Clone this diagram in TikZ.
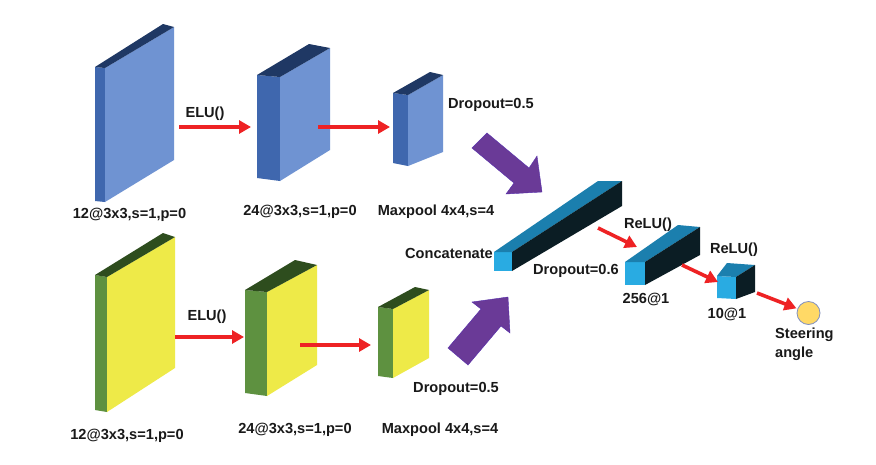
\documentclass[tikz,border=0pt]{standalone}
\usepackage{fontspec}
\setmainfont{Liberation Sans}
\usetikzlibrary{arrows.meta}
\definecolor{bFace}{HTML}{6F93D2}
\definecolor{bStrip}{HTML}{3F67AE}
\definecolor{bTop}{HTML}{1F3864}
\definecolor{gStrip}{HTML}{5E9140}
\definecolor{gTop}{HTML}{2E4D1E}
\definecolor{gFace}{HTML}{EEEA48}
\definecolor{cFront}{HTML}{29ABE2}
\definecolor{cTop}{HTML}{1B7FAE}
\definecolor{cSide}{HTML}{0B1D24}
\definecolor{purp}{HTML}{6A3A97}
\definecolor{redA}{HTML}{EE2224}
\definecolor{sun}{HTML}{FFD966}
\definecolor{ring}{HTML}{7F8FC0}
\tikzset{
  lbl/.style={font=\bfseries\fontsize{14.6}{16}\selectfont, inner sep=0pt, anchor=base, text=black!90},
  redarrow/.style={draw=redA, line width=3.6pt, -{Triangle[length=12pt,width=13pt]}},
  bigarrow/.style={fill=purp, draw=purp!80!blue, line width=0.4pt, line join=miter},
}
\begin{document}
\begin{tikzpicture}[x=1pt,y=-1pt]
\useasboundingbox (0,0) rectangle (876,464);
\fill[white] (0,0) rectangle (876,464);

% ---------- top row (blue) ----------
% box 1
\fill[bStrip] (95,67) -- (105,68) -- (105,202) -- (95,201) -- cycle;
\fill[bFace] (105,68) -- (174,27) -- (174,160) -- (105,202) -- cycle;
\fill[bTop] (95,67) -- (105,68) -- (174,27) -- (163,24) -- cycle;
% box 2
\fill[bStrip] (257,75) -- (280,77) -- (280,181) -- (257,178) -- cycle;
\fill[bFace] (280,77) -- (330,48) -- (330,150) -- (280,181) -- cycle;
\fill[bTop] (257,75) -- (280,77) -- (330,48) -- (309,44) -- cycle;
% box 3
\fill[bStrip] (393,93) -- (408,95) -- (408,166) -- (393,163) -- cycle;
\fill[bFace] (408,95) -- (443,75) -- (443,152) -- (408,166) -- cycle;
\fill[bTop] (393,93) -- (408,95) -- (443,75) -- (430,72) -- cycle;

% ---------- bottom row (green/yellow) ----------
\fill[gStrip] (95,275) -- (107,277) -- (107,412) -- (95,410) -- cycle;
\fill[gFace] (107,277) -- (175,237) -- (175,368) -- (107,412) -- cycle;
\fill[gTop] (95,275) -- (107,277) -- (175,237) -- (163,233) -- cycle;

\fill[gStrip] (245,290) -- (267,292) -- (267,396) -- (245,393) -- cycle;
\fill[gFace] (267,292) -- (317,265) -- (317,365) -- (267,396) -- cycle;
\fill[gTop] (245,290) -- (267,292) -- (317,265) -- (295,260) -- cycle;

\fill[gStrip] (378,307) -- (393,309) -- (393,378) -- (378,376) -- cycle;
\fill[gFace] (393,309) -- (429,290) -- (429,358) -- (393,378) -- cycle;
\fill[gTop] (378,307) -- (393,309) -- (429,290) -- (415,287) -- cycle;

% ---------- dense boxes (cyan) ----------
% concatenate
\fill[cFront] (494,252) rectangle (512,271);
\fill[cTop] (494,252) -- (512,252) -- (622,181) -- (598,181) -- cycle;
\fill[cSide] (512,252) -- (512,271) -- (622,206) -- (622,181) -- cycle;
% 256
\fill[cFront] (625,262) rectangle (645,285);
\fill[cTop] (625,262) -- (645,262) -- (700,227) -- (678,225) -- cycle;
\fill[cSide] (645,262) -- (645,285) -- (700,255) -- (700,227) -- cycle;
% 10
\fill[cFront] (717,276) -- (736,277) -- (736,299) -- (717,298) -- cycle;
\fill[cTop] (717,276) -- (736,277) -- (755,265) -- (727,263) -- cycle;
\fill[cSide] (736,277) -- (736,299) -- (755,292) -- (755,265) -- cycle;

% output neuron
\node[circle, fill=sun, draw=ring, line width=0.8pt, minimum size=23pt, inner sep=0pt] (out) at (808.5,313) {};

% ---------- purple block arrows ----------
\path[bigarrow] (487,133) -- (529,168) -- (537,156) -- (542,192) -- (506,194) -- (514,183) -- (472,148) -- cycle;
\path[bigarrow] (448,348) -- (481,309) -- (472,302) -- (508,297) -- (510,333) -- (501,326) -- (468,365) -- cycle;

% ---------- red arrows ----------
\coordinate (t1s) at (179,127); \coordinate (t1e) at (251,127);
\coordinate (t2s) at (318,127); \coordinate (t2e) at (390,127);
\coordinate (b1s) at (175,337); \coordinate (b1e) at (244,337);
\coordinate (b2s) at (300,345); \coordinate (b2e) at (371,345);
\coordinate (r1s) at (598,228); \coordinate (r1e) at (637,247);
\coordinate (r2s) at (682,265); \coordinate (r2e) at (718,282);
\coordinate (r3s) at (757,293);
\draw[redarrow] (t1s) -- (t1e);
\draw[redarrow] (t2s) -- (t2e);
\draw[redarrow] (b1s) -- (b1e);
\draw[redarrow] (b2s) -- (b2e);
\draw[redarrow] (r1s) -- (r1e);
\draw[redarrow] (r2s) -- (r2e);
\draw[redarrow, shorten >=1pt] (r3s) -- (out);

% ---------- labels ----------
\node[lbl] (elu1) at (205,117) {ELU()};
\node[lbl] (l1) at (129.5,218) {12@3x3,s=1,p=0};
\node[lbl] (l2) at (300,215) {24@3x3,s=1,p=0};
\node[lbl] (l3) at (436,215) {Maxpool 4x4,s=4};
\node[lbl, anchor=base west] (d1) at (448,108) {Dropout=0.5};

\node[lbl] (elu2) at (207,320) {ELU()};
\node[lbl] (l4) at (127,439) {12@3x3,s=1,p=0};
\node[lbl] (l5) at (295,433) {24@3x3,s=1,p=0};
\node[lbl] (l6) at (440,433) {Maxpool 4x4,s=4};
\node[lbl] (d2) at (456,392) {Dropout=0.5};

\node[lbl, anchor=base east] (cat) at (493,258) {Concatenate};
\node[lbl, anchor=base west] (d3) at (533,274) {Dropout=0.6};
\node[lbl] (relu1) at (648,228) {ReLU()};
\node[lbl] (relu2) at (734,253) {ReLU()};
\node[lbl] (n256) at (646,303) {256@1};
\node[lbl] (n10) at (727,318) {10@1};
\node[lbl, anchor=base west] (st) at (775,338) {Steering};
\node[lbl, anchor=base west] (an) at (775,357) {angle};
\end{tikzpicture}
\end{document}
